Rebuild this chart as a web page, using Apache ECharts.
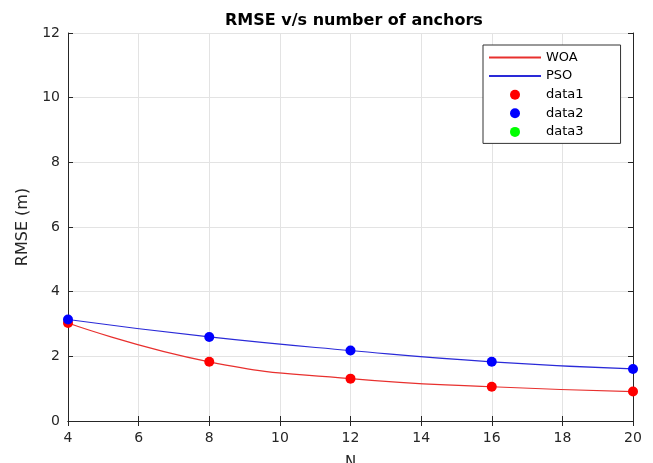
<!DOCTYPE html>
<html>
<head>
<meta charset="utf-8">
<script src="https://cdn.jsdelivr.net/npm/echarts@6/dist/echarts.min.js"></script>
<style>
  html, body { margin: 0; padding: 0; background: #fff; }
  #chart { width: 653px; height: 463px; }
</style>
</head>
<body>
<div id="chart"></div>
<script>
// number of anchors
const anchors = [4, 8, 12, 16, 20];
// RMSE (m)
const woa = [3.03, 1.83, 1.31, 1.06, 0.91];
const pso = [3.14, 2.60, 2.18, 1.83, 1.61];
const data3 = []; // green series, nothing drawn

const pairs = (xs, ys) => xs.map((x, i) => [x, ys[i]]);

const FONT = 'DejaVu Sans';
const AXIS = '#262626';

const chart = echarts.init(document.getElementById('chart'), null, {renderer: 'canvas'});

const hiddenAxis = {
  axisLabel: {show: false},
  axisLine: {show: true, lineStyle: {color: AXIS, width: 1}},
  axisTick: {show: true, inside: true, length: 5, lineStyle: {color: AXIS}},
  splitLine: {show: false}
};

// legend entries for the two lines: line only, no dot
const lineOnly = {color: 'rgba(0,0,0,0)', borderWidth: 0};

chart.setOption({
  animation: false,
  backgroundColor: '#fff',
  title: {
    text: 'RMSE v/s number of anchors',
    left: 220,
    top: 8,
    textStyle: {fontFamily: FONT, fontSize: 16, fontWeight: 'bold', color: '#000'}
  },
  legend: {
    orient: 'vertical',
    left: 483,
    top: 45,
    padding: [6, 37, 5, 5],
    itemWidth: 52,
    itemHeight: 10,
    itemGap: 5.6,
    borderColor: '#333',
    borderWidth: 1,
    backgroundColor: '#fff',
    textStyle: {fontFamily: FONT, fontSize: 13, color: '#000', lineHeight: 10},
    data: [
      {name: 'WOA', itemStyle: lineOnly},
      {name: 'PSO', itemStyle: lineOnly},
      'data1', 'data2', 'data3'
    ]
  },
  grid: {left: 68, right: 20, top: 33, bottom: 42, containLabel: false, outerBoundsMode: 'none'},
  xAxis: [
    {
      type: 'value',
      min: 4, max: 20, interval: 2,
      name: 'N',
      nameLocation: 'middle',
      nameGap: 35,
      nameTextStyle: {fontFamily: FONT, fontSize: 15, color: AXIS},
      axisLabel: {fontFamily: FONT, fontSize: 14, color: AXIS, margin: 10},
      axisLine: {lineStyle: {color: AXIS, width: 1}},
      axisTick: {inside: true, length: 5, lineStyle: {color: AXIS}},
      splitLine: {show: true, lineStyle: {color: '#e3e3e3'}}
    },
    Object.assign({type: 'value', position: 'top', min: 4, max: 20, interval: 2}, hiddenAxis)
  ],
  yAxis: [
    {
      type: 'value',
      min: 0, max: 12, interval: 2,
      name: 'RMSE (m)',
      nameLocation: 'middle',
      nameGap: 37,
      nameTextStyle: {fontFamily: FONT, fontSize: 16, color: AXIS},
      axisLabel: {fontFamily: FONT, fontSize: 14, color: AXIS, margin: 8},
      axisLine: {show: true, lineStyle: {color: AXIS, width: 1}},
      axisTick: {show: true, inside: true, length: 5, lineStyle: {color: AXIS}},
      splitLine: {show: true, lineStyle: {color: '#e3e3e3'}}
    },
    Object.assign({type: 'value', position: 'right', min: 0, max: 12, interval: 2}, hiddenAxis)
  ],
  series: [
    {
      name: 'WOA',
      type: 'line',
      data: pairs(anchors, woa),
      smooth: 0.5,
      symbol: 'none',
      itemStyle: {color: '#e8302e'},
      lineStyle: {color: '#e8302e', width: 1.2},
      z: 2
    },
    {
      name: 'PSO',
      type: 'line',
      data: pairs(anchors, pso),
      smooth: 0.5,
      symbol: 'none',
      itemStyle: {color: '#2a2ad8'},
      lineStyle: {color: '#2a2ad8', width: 1.2},
      z: 2
    },
    {
      name: 'data1',
      type: 'scatter',
      data: pairs(anchors, woa),
      symbolSize: 10,
      itemStyle: {color: '#ff0000', opacity: 1},
      z: 3
    },
    {
      name: 'data2',
      type: 'scatter',
      data: pairs(anchors, pso),
      symbolSize: 10,
      itemStyle: {color: '#0000ff', opacity: 1},
      z: 4
    },
    {
      name: 'data3',
      type: 'scatter',
      data: data3,
      symbolSize: 10,
      itemStyle: {color: '#00ff00', opacity: 1},
      z: 4
    }
  ]
});
</script>
</body>
</html>
